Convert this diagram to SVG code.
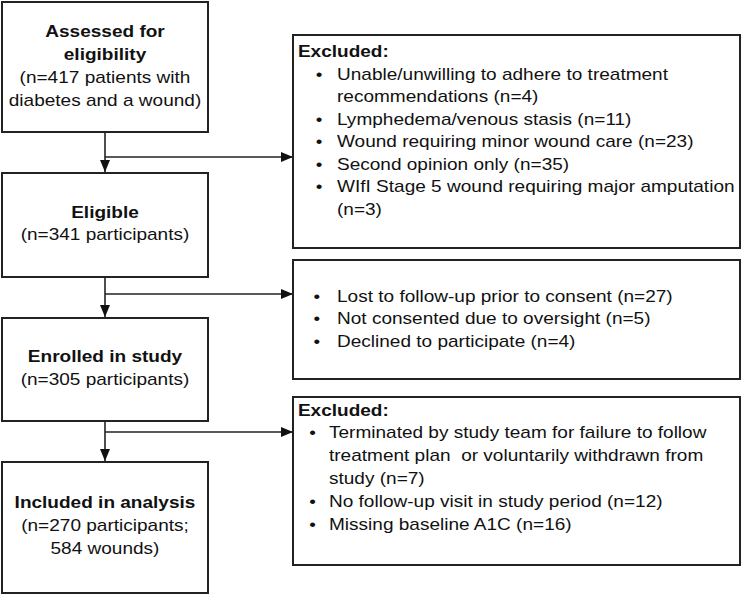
<svg xmlns="http://www.w3.org/2000/svg" width="742" height="596" viewBox="0 0 742 596">
<defs>
<marker id="ah" markerWidth="12" markerHeight="10" refX="12" refY="5" orient="auto" markerUnits="userSpaceOnUse">
<path d="M0,0 L12,5 L0,10 Z" fill="#111"/>
</marker>
<style>
.box{fill:#fff;stroke:#222;stroke-width:2}
.t{font-family:"Liberation Sans",Arial,sans-serif;font-size:17px;fill:#111}
.c{text-anchor:middle}
.b{font-weight:bold}
.ln{stroke:#222;stroke-width:1.6;fill:none}
</style>
</defs>
<rect width="742" height="596" fill="#fff"/>
<g id="connectors">
<path class="ln" d="M105,132 V172" marker-end="url(#ah)"/>
<path class="ln" d="M105,157 H293" marker-end="url(#ah)"/>
<path class="ln" d="M105,277 V317" marker-end="url(#ah)"/>
<path class="ln" d="M105,294 H293" marker-end="url(#ah)"/>
<path class="ln" d="M105,421 V461" marker-end="url(#ah)"/>
<path class="ln" d="M105,432 H293" marker-end="url(#ah)"/>
</g>
<g id="assessed">
<rect class="box" x="2" y="2" width="206" height="130"/>
<g transform="scale(1.12,1)">
<text class="t c b" x="93.75" y="37">Assessed for</text>
<text class="t c b" x="93.75" y="60">eligibility</text>
<text class="t c" x="93.75" y="83">(n=417 patients with</text>
<text class="t c" x="93.75" y="106">diabetes and a wound)</text>
</g>
</g>
<g id="eligible">
<rect class="box" x="2" y="173" width="206" height="104"/>
<g transform="scale(1.12,1)">
<text class="t c b" x="93.75" y="218">Eligible</text>
<text class="t c" x="93.75" y="240">(n=341 participants)</text>
</g>
</g>
<g id="enrolled">
<rect class="box" x="2" y="318" width="206" height="103"/>
<g transform="scale(1.12,1)">
<text class="t c b" x="93.75" y="362">Enrolled in study</text>
<text class="t c" x="93.75" y="385">(n=305 participants)</text>
</g>
</g>
<g id="included">
<rect class="box" x="2" y="462" width="206" height="131"/>
<g transform="scale(1.12,1)">
<text class="t c b" x="93.75" y="508">Included in analysis</text>
<text class="t c" x="93.75" y="531">(n=270 participants;</text>
<text class="t c" x="93.75" y="554">584 wounds)</text>
</g>
</g>
<g id="excluded1">
<rect class="box" x="293" y="35" width="447" height="213"/>
<g transform="scale(1.12,1)">
<text class="t b" x="266" y="57">Excluded:</text>
<text class="t" x="282" y="80">•</text><text class="t" x="300.9" y="80">Unable/unwilling to adhere to treatment</text>
<text class="t" x="300.9" y="102">recommendations (n=4)</text>
<text class="t" x="282" y="125">•</text><text class="t" x="300.9" y="125">Lymphedema/venous stasis (n=11)</text>
<text class="t" x="282" y="147">•</text><text class="t" x="300.9" y="147">Wound requiring minor wound care (n=23)</text>
<text class="t" x="282" y="170">•</text><text class="t" x="300.9" y="170">Second opinion only (n=35)</text>
<text class="t" x="282" y="192">•</text><text class="t" x="300.9" y="192">WIfI Stage 5 wound requiring major amputation</text>
<text class="t" x="300.9" y="215">(n=3)</text>
</g>
</g>
<g id="excluded2">
<rect class="box" x="293" y="260" width="447" height="119"/>
<g transform="scale(1.12,1)">
<text class="t" x="279.8" y="302">•</text><text class="t" x="300.9" y="302">Lost to follow-up prior to consent (n=27)</text>
<text class="t" x="279.8" y="324">•</text><text class="t" x="300.9" y="324">Not consented due to oversight (n=5)</text>
<text class="t" x="279.8" y="347">•</text><text class="t" x="300.9" y="347">Declined to participate (n=4)</text>
</g>
</g>
<g id="excluded3">
<rect class="box" x="293" y="397" width="447" height="168"/>
<g transform="scale(1.12,1)">
<text class="t b" x="266" y="416">Excluded:</text>
<text class="t" x="276.2" y="438">•</text><text class="t" x="293.75" y="438">Terminated by study team for failure to follow</text>
<text class="t" x="293.75" y="461" xml:space="preserve">treatment plan  or voluntarily withdrawn from</text>
<text class="t" x="293.75" y="484">study (n=7)</text>
<text class="t" x="276.2" y="507">•</text><text class="t" x="293.75" y="507">No follow-up visit in study period (n=12)</text>
<text class="t" x="276.2" y="530">•</text><text class="t" x="293.75" y="530">Missing baseline A1C (n=16)</text>
</g>
</g>
</svg>
